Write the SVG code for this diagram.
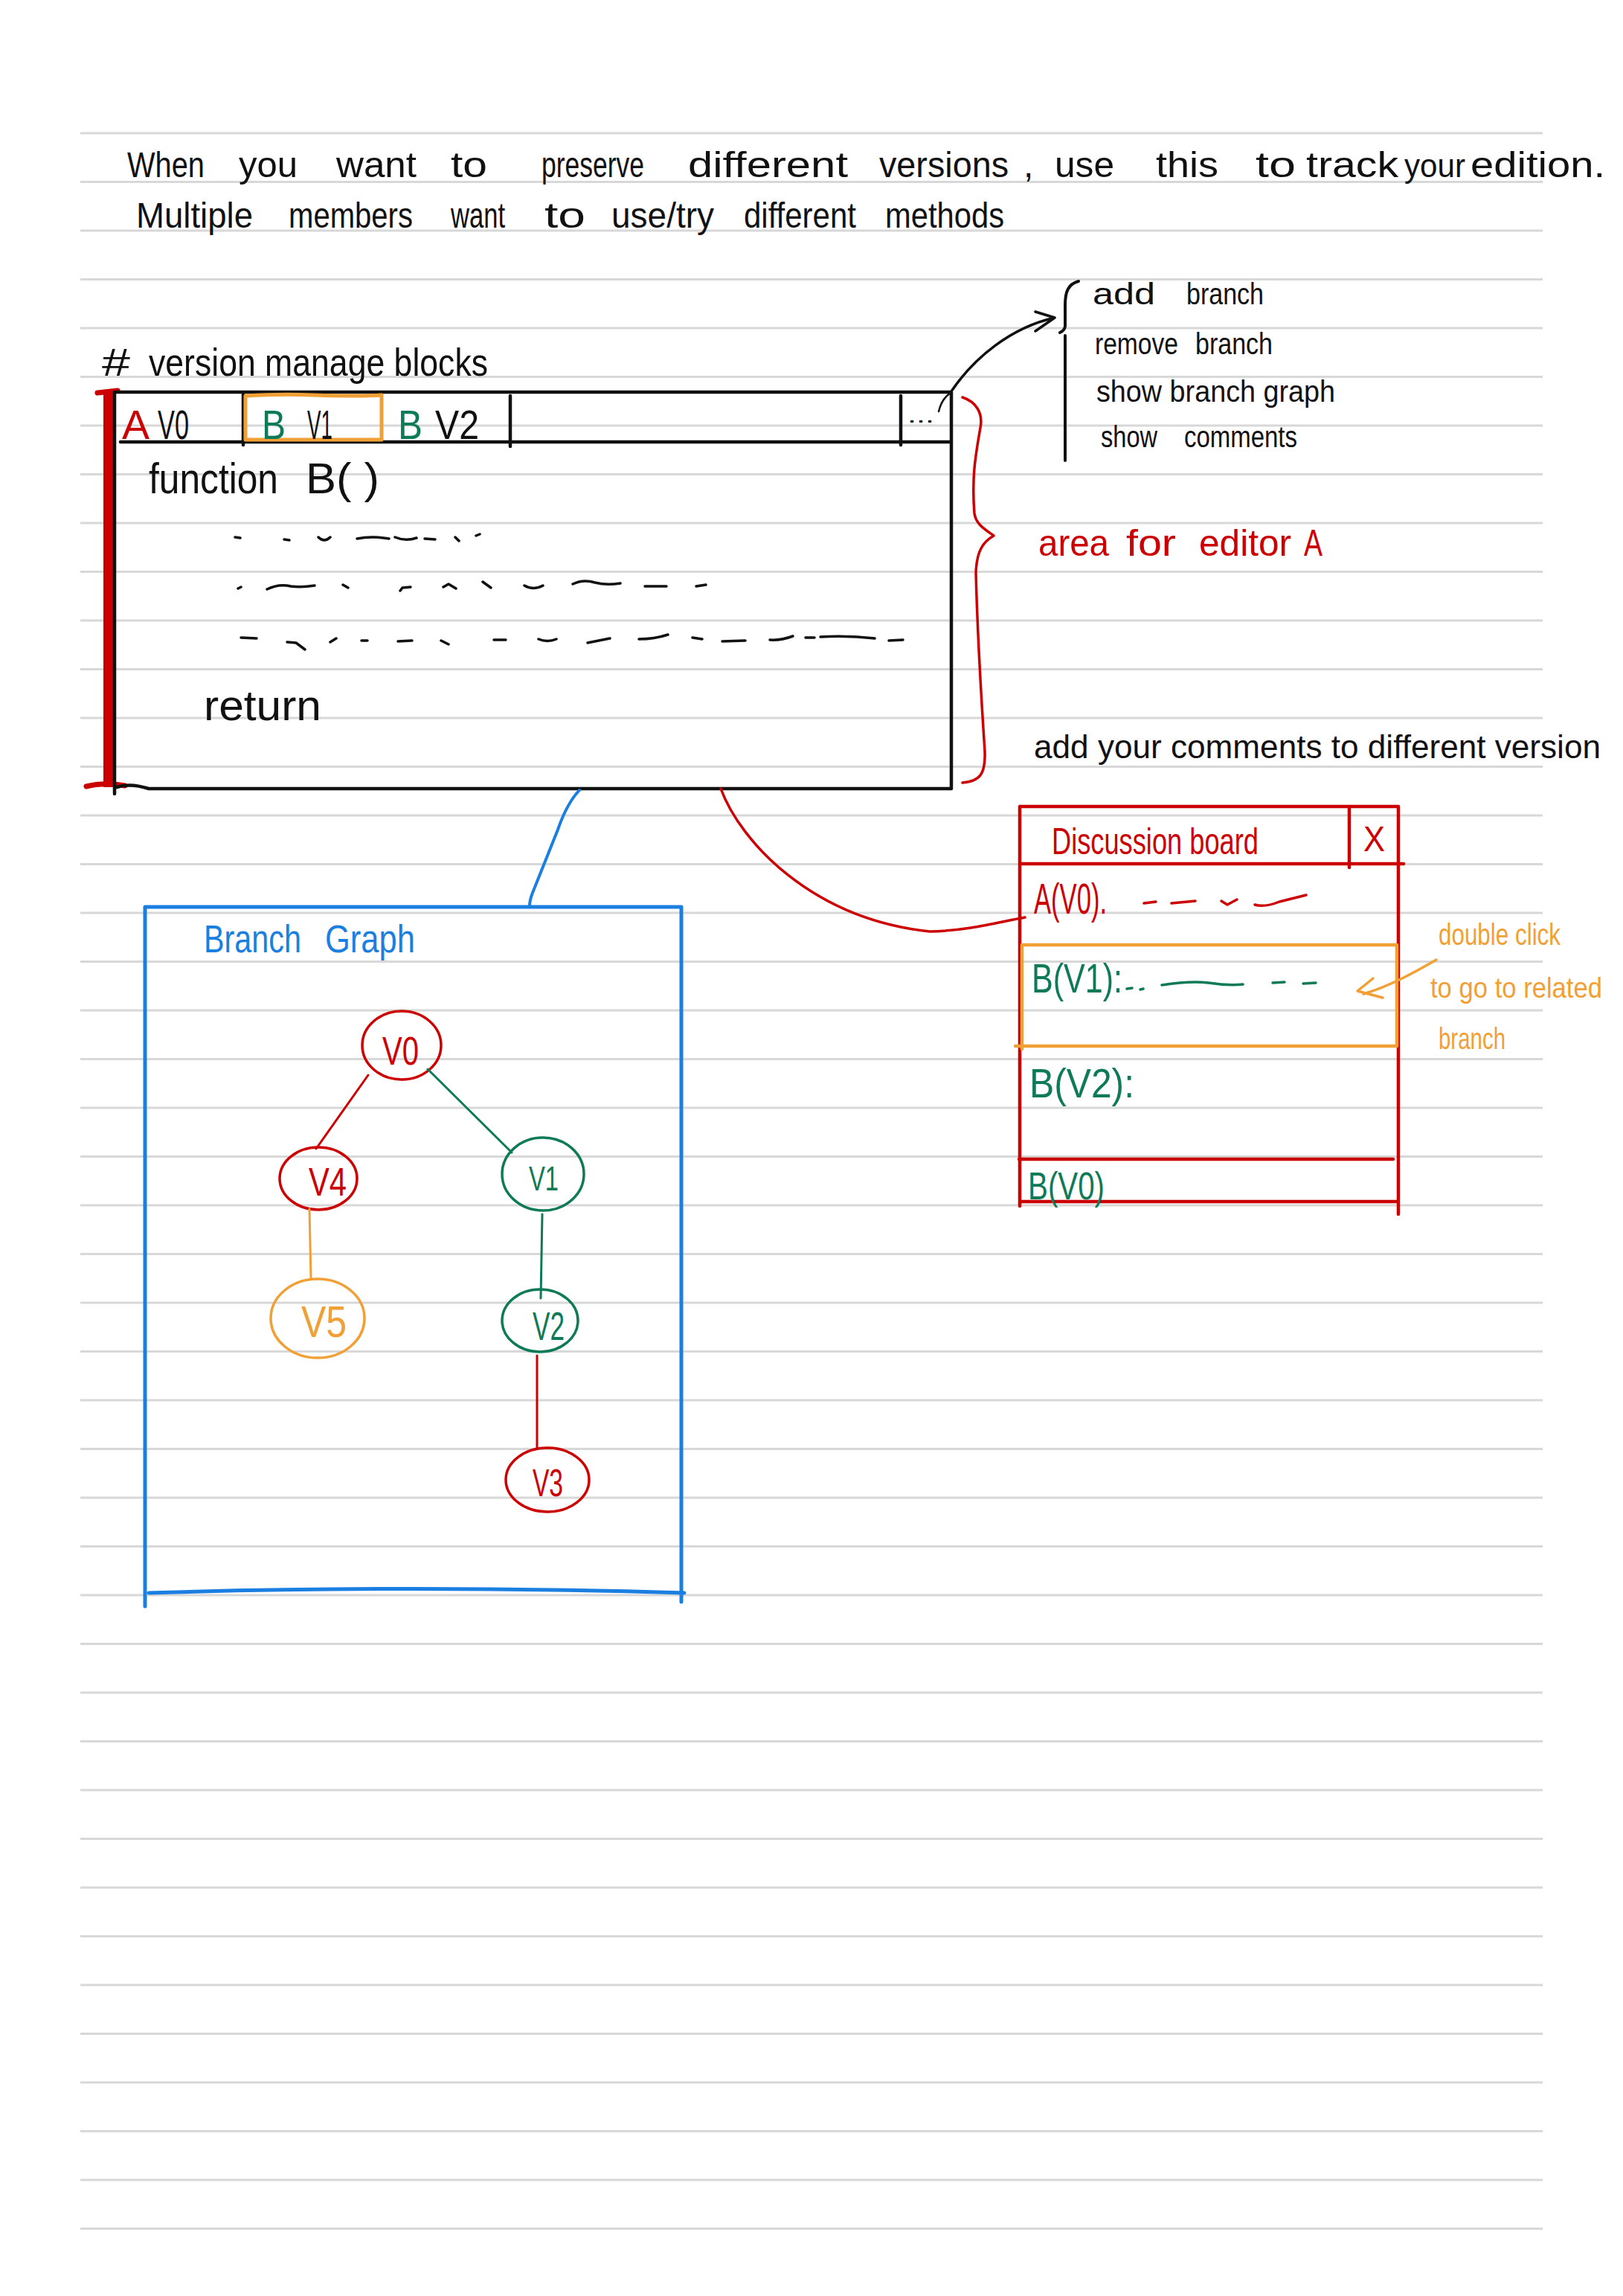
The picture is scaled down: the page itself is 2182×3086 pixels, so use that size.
<svg xmlns="http://www.w3.org/2000/svg" width="2182" height="3086" viewBox="0 0 2182 3086">
<style>
.rule{stroke:#d8d8d8;stroke-width:3;fill:none}
.ink{fill:none;stroke-linecap:round;stroke-linejoin:round}
.blk{stroke:#111111}
.red{stroke:#cc0000}
.grn{stroke:#0f7a57}
.org{stroke:#f0a035}
.blu{stroke:#1a7fe0}
text{font-family:"Liberation Sans",Arial,sans-serif;}
.tb{fill:#111111}
.tr{fill:#cc0000}
.tg{fill:#0f7a57}
.to{fill:#f0a035}
.tbl{fill:#1a7fe0}
</style>
<rect x="0" y="0" width="2182" height="3086" fill="#ffffff"/>
<g id="ruled-lines">
<path class="rule" d="M108 179H2074M108 244.5H2074M108 310H2074M108 375.5H2074M108 441H2074M108 506.5H2074M108 572H2074M108 637.5H2074M108 703H2074M108 768.5H2074M108 834H2074M108 899.5H2074M108 965H2074M108 1030.5H2074M108 1096H2074M108 1161.5H2074M108 1227H2074M108 1292.5H2074M108 1358H2074M108 1423.5H2074M108 1489H2074M108 1554.5H2074M108 1620H2074M108 1685.5H2074M108 1751H2074M108 1816.5H2074M108 1882H2074M108 1947.5H2074M108 2013H2074M108 2078.5H2074M108 2144H2074M108 2209.5H2074M108 2275H2074M108 2340.5H2074M108 2406H2074M108 2471.5H2074M108 2537H2074M108 2602.5H2074M108 2668H2074M108 2733.5H2074M108 2799H2074M108 2864.5H2074M108 2930H2074M108 2995.5H2074"/>
</g>
<g id="intro-text">
<text class="tb" font-size="48" y="238"><tspan x="171" textLength="104" lengthAdjust="spacingAndGlyphs">When</tspan> <tspan x="321" textLength="79" lengthAdjust="spacingAndGlyphs">you</tspan> <tspan x="452" textLength="108" lengthAdjust="spacingAndGlyphs">want</tspan> <tspan x="606" textLength="49" lengthAdjust="spacingAndGlyphs">to</tspan> <tspan x="728" textLength="138" lengthAdjust="spacingAndGlyphs">preserve</tspan> <tspan x="925" textLength="215" lengthAdjust="spacingAndGlyphs">different</tspan> <tspan x="1182" textLength="174" lengthAdjust="spacingAndGlyphs">versions</tspan> <tspan x="1376">,</tspan> <tspan x="1418" textLength="80" lengthAdjust="spacingAndGlyphs">use</tspan> <tspan x="1554" textLength="84" lengthAdjust="spacingAndGlyphs">this</tspan> <tspan x="1688" textLength="54" lengthAdjust="spacingAndGlyphs">to</tspan> <tspan x="1756" textLength="124" lengthAdjust="spacingAndGlyphs">track</tspan> <tspan x="1888" font-size="44" textLength="82" lengthAdjust="spacingAndGlyphs">your</tspan> <tspan x="1977" textLength="181" lengthAdjust="spacingAndGlyphs">edition.</tspan></text>
<text class="tb" font-size="48" y="306"><tspan x="183" textLength="157" lengthAdjust="spacingAndGlyphs">Multiple</tspan> <tspan x="388" textLength="167" lengthAdjust="spacingAndGlyphs">members</tspan> <tspan x="606" textLength="73" lengthAdjust="spacingAndGlyphs">want</tspan> <tspan x="732" textLength="55" lengthAdjust="spacingAndGlyphs">to</tspan> <tspan x="822" textLength="138" lengthAdjust="spacingAndGlyphs">use/try</tspan> <tspan x="1000" textLength="151" lengthAdjust="spacingAndGlyphs">different</tspan> <tspan x="1190" textLength="160" lengthAdjust="spacingAndGlyphs">methods</tspan></text>
</g>
<g id="editor">
<text class="tb" font-size="52" y="505"><tspan x="137" textLength="38" lengthAdjust="spacingAndGlyphs">#</tspan> <tspan x="200" textLength="456" lengthAdjust="spacingAndGlyphs">version manage blocks</tspan></text>
<rect x="139" y="525" width="13" height="533" fill="#cc0000"/>
<path class="ink red" stroke-width="7" d="M131 528L158 525M116 1057Q140 1051 168 1056"/>
<path class="ink blk" stroke-width="4.5" d="M154 527L1279 527L1279 1060L200 1060M154 527L154 1067M157 1058Q175 1052 200 1060M162 594L1277 594M327 530L327 598M686 532L686 600M1211 532L1211 598"/>
<path class="ink org" stroke-width="5" d="M330 532Q380 529 420 531Q470 533 513 531L513 591L330 591Z"/>
<text font-size="56" y="590"><tspan class="tr" x="164" textLength="34" lengthAdjust="spacingAndGlyphs">A</tspan> <tspan class="tb" x="212" textLength="42" lengthAdjust="spacingAndGlyphs">V0</tspan></text>
<text font-size="56" y="590"><tspan class="tg" x="352" textLength="32" lengthAdjust="spacingAndGlyphs">B</tspan> <tspan class="tb" x="413" textLength="34" lengthAdjust="spacingAndGlyphs">V1</tspan></text>
<text font-size="56" y="590"><tspan class="tg" x="535" textLength="33" lengthAdjust="spacingAndGlyphs">B</tspan> <tspan class="tb" x="585" textLength="59" lengthAdjust="spacingAndGlyphs">V2</tspan></text>
<text class="tb" font-size="30" x="1220" y="568" textLength="36" lengthAdjust="spacingAndGlyphs">...</text>
<text class="tb" font-size="58" y="663"><tspan x="200" textLength="174" lengthAdjust="spacingAndGlyphs">function</tspan> <tspan x="411" textLength="99" lengthAdjust="spacingAndGlyphs">B( )</tspan></text>
<path class="ink blk" stroke-width="3.5" d="M316 722L323 723M382 725L389 726M428 722Q436 730 444 722M480 724Q500 720 523 724M531 722Q545 728 560 723M571 724L585 725M612 722L617 727M640 720L645 718M320 791L324 789M359 792Q375 784 391 788Q405 790 423 787M461 786L468 790M538 794L541 790L552 789M596 789L603 785L613 791M649 782L660 790M705 787Q717 794 730 787M770 785Q784 778 800 783Q815 787 834 784M867 788L896 788M936 788L949 786M324 857L345 858M386 863L398 864L410 873M444 863L452 858M486 861L494 861M535 862L554 861M593 861L603 866M664 860L680 860M724 859Q736 864 748 859M790 864L820 858M859 859Q880 859 898 853M931 857L944 859M971 862L1002 861M1035 860Q1050 861 1066 855M1083 857L1095 857M1103 856Q1140 854 1176 858M1195 861L1214 860"/>
<text class="tb" font-size="58" x="274" y="968" textLength="158" lengthAdjust="spacingAndGlyphs">return</text>
</g>
<g id="red-brace">
<path class="ink red" stroke-width="3.5" d="M1294 534C1312 540 1322 555 1318 575C1312 610 1306 640 1310 690C1312 705 1325 712 1336 720C1322 728 1313 740 1312 770C1314 850 1320 950 1324 1010C1325 1040 1318 1050 1294 1052"/>
<text class="tr" font-size="50" y="747"><tspan x="1396" textLength="95" lengthAdjust="spacingAndGlyphs">area</tspan> <tspan x="1514" textLength="67" lengthAdjust="spacingAndGlyphs">for</tspan> <tspan x="1612" textLength="124" lengthAdjust="spacingAndGlyphs">editor</tspan> <tspan x="1753" textLength="25" lengthAdjust="spacingAndGlyphs">A</tspan></text>
</g>
<g id="menu">
<path class="ink blk" stroke-width="4" d="M1450 378C1436 382 1432 392 1432 410L1432 438C1432 443 1429 445 1425 447M1432 451L1432 619"/>
<text class="tb" font-size="40" y="409"><tspan x="1469" textLength="84" lengthAdjust="spacingAndGlyphs">add</tspan> <tspan x="1595" textLength="104" lengthAdjust="spacingAndGlyphs">branch</tspan></text>
<text class="tb" font-size="40" y="476"><tspan x="1472" textLength="112" lengthAdjust="spacingAndGlyphs">remove</tspan> <tspan x="1607" textLength="104" lengthAdjust="spacingAndGlyphs">branch</tspan></text>
<text class="tb" font-size="40" x="1474" y="540" textLength="321" lengthAdjust="spacingAndGlyphs">show branch graph</text>
<text class="tb" font-size="40" y="601"><tspan x="1480" textLength="76" lengthAdjust="spacingAndGlyphs">show</tspan> <tspan x="1592" textLength="152" lengthAdjust="spacingAndGlyphs">comments</tspan></text>
</g>
<g id="comments-note">
<text class="tb" font-size="45" x="1390" y="1019" textLength="762" lengthAdjust="spacingAndGlyphs">add your comments to different version</text>
</g>
<g id="discussion-board">
<path class="ink red" stroke-width="4.5" d="M1371 1084L1880 1084L1880 1632M1371 1084L1371 1621M1371 1161L1887 1161M1814 1084L1814 1166M1370 1558L1873 1558M1371 1615L1880 1615"/>
<text class="tr" font-size="50" x="1414" y="1148" textLength="278" lengthAdjust="spacingAndGlyphs">Discussion board</text>
<text class="tr" font-size="48" x="1833" y="1144" textLength="29" lengthAdjust="spacingAndGlyphs">X</text>
<text class="tr" font-size="58" x="1390" y="1228" textLength="98" lengthAdjust="spacingAndGlyphs">A(V0).</text>
<path class="ink red" stroke-width="3.5" d="M1538 1214L1554 1212M1575 1214L1607 1211M1642 1211L1650 1216L1663 1209M1687 1216Q1700 1220 1720 1212L1756 1203"/>
<path class="ink org" stroke-width="4.5" d="M1374 1270L1878 1270L1878 1406L1365 1406M1374 1270L1374 1410"/>
<text class="tg" font-size="56" x="1387" y="1334" textLength="122" lengthAdjust="spacingAndGlyphs">B(V1):</text>
<path class="ink grn" stroke-width="3.5" d="M1515 1329L1522 1328M1533 1330L1537 1329M1562 1324Q1600 1318 1625 1321Q1650 1325 1671 1323M1711 1321L1727 1320M1752 1322L1769 1321"/>
<text class="tg" font-size="56" x="1384" y="1475" textLength="141" lengthAdjust="spacingAndGlyphs">B(V2):</text>
<text class="tg" font-size="52" x="1382" y="1612" textLength="103" lengthAdjust="spacingAndGlyphs">B(V0)</text>
<text class="to" font-size="40" x="1934" y="1270" textLength="164" lengthAdjust="spacingAndGlyphs">double click</text>
<text class="to" font-size="38" x="1923" y="1341" textLength="231" lengthAdjust="spacingAndGlyphs">to go to related</text>
<text class="to" font-size="40" x="1934" y="1410" textLength="90" lengthAdjust="spacingAndGlyphs">branch</text>
</g>
<g id="branch-graph">
<path class="ink blu" stroke-width="5" d="M195 1219L916 1219L916 2153M195 1219L195 2159M200 2141Q550 2130 920 2141"/>
<text class="tbl" font-size="51" y="1280"><tspan x="274" textLength="131" lengthAdjust="spacingAndGlyphs">Branch</tspan> <tspan x="437" textLength="121" lengthAdjust="spacingAndGlyphs">Graph</tspan></text>
<g id="node-v0"><ellipse class="ink red" stroke-width="3.5" cx="540" cy="1405" rx="53" ry="46"/><text class="tr" font-size="54" x="514" y="1431" textLength="49" lengthAdjust="spacingAndGlyphs">V0</text></g>
<g id="node-v4"><ellipse class="ink red" stroke-width="3.5" cx="428" cy="1584" rx="52" ry="42"/><text class="tr" font-size="54" x="415" y="1607" textLength="51" lengthAdjust="spacingAndGlyphs">V4</text></g>
<g id="node-v1"><ellipse class="ink grn" stroke-width="3.5" cx="730" cy="1578" rx="55" ry="49"/><text class="tg" font-size="46" x="711" y="1600" textLength="40" lengthAdjust="spacingAndGlyphs">V1</text></g>
<g id="node-v5"><ellipse class="ink org" stroke-width="3.5" cx="427" cy="1772" rx="63" ry="53"/><text class="to" font-size="60" x="405" y="1797" textLength="61" lengthAdjust="spacingAndGlyphs">V5</text></g>
<g id="node-v2"><ellipse class="ink grn" stroke-width="3.5" cx="726" cy="1775" rx="51" ry="42"/><text class="tg" font-size="54" x="716" y="1801" textLength="43" lengthAdjust="spacingAndGlyphs">V2</text></g>
<g id="node-v3"><ellipse class="ink red" stroke-width="3.5" cx="736" cy="1989" rx="56" ry="43"/><text class="tr" font-size="52" x="716" y="2011" textLength="41" lengthAdjust="spacingAndGlyphs">V3</text></g>
</g>
<g id="connectors">
<path class="ink blk" stroke-width="3.5" d="M1279 526C1310 480 1360 440 1418 427M1392 419L1418 427L1392 445"/>
<path class="ink blk" stroke-width="2.5" d="M1262 553Q1266 536 1278 528"/>
<path class="ink blu" stroke-width="4" d="M779 1062Q762 1080 750 1115L716 1200Q712 1210 712 1218"/>
<path class="ink red" stroke-width="3.5" d="M969 1060C995 1130 1090 1235 1250 1252C1300 1251 1340 1240 1378 1233"/>
<path class="ink org" stroke-width="3.5" d="M1931 1290C1905 1305 1870 1325 1833 1336M1846 1315L1825 1332L1859 1341"/>
<path class="ink red" stroke-width="3" d="M495 1445L425 1544"/>
<path class="ink grn" stroke-width="3" d="M575 1437L688 1549"/>
<path class="ink org" stroke-width="3" d="M416 1625L418 1719"/>
<path class="ink grn" stroke-width="3" d="M729 1632L727 1745"/>
<path class="ink red" stroke-width="3" d="M722 1822L722 1947"/>
</g>
</svg>
